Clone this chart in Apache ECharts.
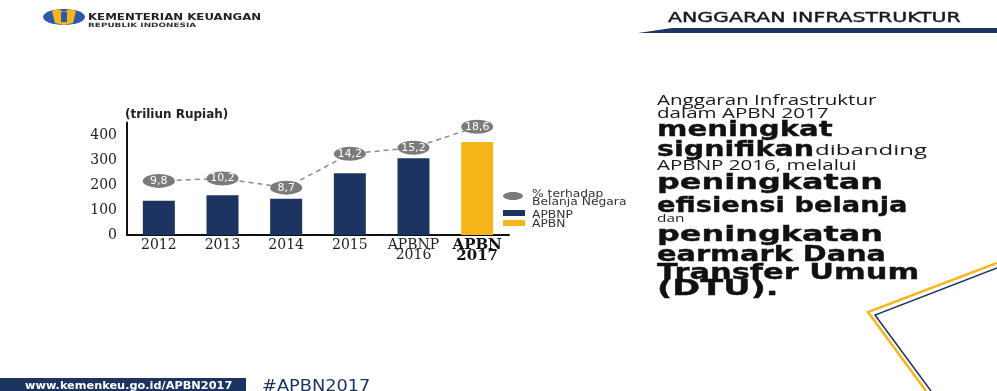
<!DOCTYPE html>
<html>
<head>
<meta charset="utf-8">
<script src="https://cdn.jsdelivr.net/npm/echarts@6/dist/echarts.min.js"></script>
<style>
html,body{margin:0;padding:0;background:#fff;}
#c{width:997px;height:391px;}
</style>
</head>
<body>
<div id="c"></div>
<script>
var categories = ['2012', '2013', '2014', '2015', 'APBNP\n2016', 'APBN\n2017'];
var apbnpValues = [137, 159, 145, 247, 307, '-'];
var apbnValues = ['-', '-', '-', '-', '-', 372];
var sharePercent = [9.8, 10.2, 8.7, 14.2, 15.2, 18.6];
var yTicks = [0, 100, 200, 300, 400];
var legendNames = ['% terhadap\nBelanja Negara', 'APBNP', 'APBN'];

var NAVY = '#1d3461';
var GOLD = '#f6b619';
var GRAY = '#7b7b7b';
var ELLIPSE = 'path://M0,10 A20,10 0 1,1 40,10 A20,10 0 1,1 0,10 Z';

var chart = echarts.init(document.getElementById('c'), null, {renderer: 'canvas'});

var heavy = {fontFamily: 'DejaVu Sans', fontWeight: 'bold', fontSize: 21, fill: '#111', stroke: '#111', lineWidth: 0.35};
var light = {fontFamily: 'Open Sans', fontWeight: 'normal', fontSize: 15, fill: '#1a1a1a'};
var LS = 1.37;

// x = left edge, b = text baseline
function txt(x, b, text, st, sx) {
  var fs = st.fontSize || 12;
  return {type: 'text', x: x, y: b - 0.12 * fs, scaleX: sx || 1,
    style: Object.assign({text: text, verticalAlign: 'middle', align: 'left'}, st)};
}

var option = {
  animation: false,
  backgroundColor: '#ffffff',
  grid: {left: 127, right: 488, top: 122.5, bottom: 156, containLabel: false},
  legend: {show: false, data: legendNames},
  xAxis: {
    type: 'category', data: categories,
    axisLine: {lineStyle: {color: '#111', width: 2}},
    axisTick: {show: false},
    axisLabel: {
      margin: 5, interval: 0,
      fontFamily: 'DejaVu Serif', fontSize: 14, color: '#222', lineHeight: 10,
      formatter: function (v, i) {
        if (i === 5) return v.split('\n').map(function (s) { return '{b|' + s + '}'; }).join('\n');
        return v;
      },
      rich: {b: {fontFamily: 'DejaVu Serif', fontWeight: 'bold', fontSize: 15, color: '#111', lineHeight: 11}}
    }
  },
  yAxis: [{
    type: 'value', min: 0, max: 450, interval: 100,
    name: '(triliun Rupiah)', nameLocation: 'end', nameGap: 2,
    nameTextStyle: {fontFamily: 'DejaVu Sans', fontWeight: 'bold', fontSize: 12, color: '#222', align: 'left', padding: [0, 0, 0, -2]},
    axisLine: {show: true, lineStyle: {color: '#111', width: 2}},
    axisTick: {show: false},
    splitLine: {show: false},
    axisLabel: {margin: 10, showMaxLabel: false, fontFamily: 'DejaVu Serif', fontSize: 14, color: '#222',
      formatter: function (v) { return yTicks.indexOf(v) >= 0 ? String(v) : ''; }}
  }, {
    type: 'value', min: 1, max: 19.3, show: false, splitLine: {show: false}
  }],
  series: [
    {name: legendNames[1], type: 'bar', stack: 'v', data: apbnpValues, barWidth: 32, itemStyle: {color: NAVY}},
    {name: legendNames[2], type: 'bar', stack: 'v', data: apbnValues, barWidth: 32, itemStyle: {color: GOLD}},
    {
      name: legendNames[0], type: 'line', yAxisIndex: 1, data: sharePercent,
      symbol: ELLIPSE, symbolSize: [32, 14], z: 5,
      itemStyle: {color: GRAY},
      lineStyle: {color: '#8c8c8c', width: 1.5, type: [5, 4]},
      label: {show: true, position: 'inside', color: '#fff', fontFamily: 'DejaVu Sans', fontSize: 11,
        formatter: function (p) { return String(p.value).replace('.', ','); }}
    }
  ],
  graphic: [
    // header logo
    {type: 'ellipse', shape: {cx: 64, cy: 17, rx: 21, ry: 8}, style: {fill: '#2a5aa8'}},
    {type: 'polygon', shape: {points: [[52,11],[58,9],[64,12],[70,9],[76,11],[73,23],[64,25],[55,23]]}, style: {fill: GOLD}},
    {type: 'rect', shape: {x: 61, y: 12, width: 6, height: 10}, style: {fill: '#2a5aa8'}},
    txt(88, 19, 'KEMENTERIAN KEUANGAN', {fontFamily: 'DejaVu Sans', fontWeight: 'bold', fontSize: 8, fill: '#222'}, 1.47),
    txt(88, 26, 'REPUBLIK INDONESIA', {fontFamily: 'DejaVu Sans', fontWeight: 'bold', fontSize: 6, fill: '#333'}, 1.48),
    // title
    txt(668, 20.5, 'ANGGARAN INFRASTRUKTUR', {fontFamily: 'DejaVu Sans', fontSize: 14, fill: '#1a1a1a', stroke: '#1a1a1a', lineWidth: 0.4}, 1.46),
    {type: 'polygon', shape: {points: [[638,33],[672,28],[997,28],[997,33]]}, style: {fill: NAVY}},
    // right text block
    txt(657, 103, 'Anggaran Infrastruktur', light, LS),
    txt(657, 116, 'dalam APBN 2017', light, LS),
    txt(657, 133, 'meningkat', heavy, 1.39),
    txt(657, 153, 'signifikan', heavy, 1.36),
    txt(815, 153, 'dibanding', light, 1.6),
    txt(657, 168, 'APBNP 2016, melalui', light, LS),
    txt(657, 186, 'peningkatan', heavy, 1.52),
    txt(657, 209, 'efisiensi belanja', heavy, 1.30),
    txt(657, 220, 'dan', {fontFamily: 'Open Sans', fontSize: 11, fill: '#222'}, 1.4),
    txt(657, 238, 'peningkatan', heavy, 1.52),
    txt(657, 258, 'earmark Dana', heavy, 1.37),
    txt(657, 276, 'Transfer Umum', heavy, 1.45),
    txt(657, 292, '(DTU).', heavy, 1.6),
    // legend
    {type: 'ellipse', shape: {cx: 513, cy: 196, rx: 10, ry: 4}, style: {fill: GRAY}},
    {type: 'rect', shape: {x: 503, y: 210, width: 22, height: 6}, style: {fill: NAVY}},
    {type: 'rect', shape: {x: 503, y: 220, width: 22, height: 6}, style: {fill: GOLD}},
    txt(532, 195, '% terhadap', {fontFamily: 'DejaVu Sans', fontSize: 11, fill: '#333'}, 1.12),
    txt(532, 203, 'Belanja Negara', {fontFamily: 'DejaVu Sans', fontSize: 11, fill: '#333'}, 1.12),
    txt(532, 216, 'APBNP', {fontFamily: 'DejaVu Sans', fontSize: 11, fill: '#333'}, 1.12),
    txt(532, 225.5, 'APBN', {fontFamily: 'DejaVu Sans', fontSize: 11, fill: '#333'}, 1.12),
    // decoration
    {type: 'polyline', shape: {points: [[997,263],[868,312],[926,391]]}, style: {stroke: GOLD, lineWidth: 2.5, fill: null}},
    {type: 'polyline', shape: {points: [[997,268],[875,315],[931,391]]}, style: {stroke: NAVY, lineWidth: 1.5, fill: null}},
    // footer
    {type: 'rect', shape: {x: 0, y: 378, width: 246, height: 13}, style: {fill: NAVY}},
    txt(25, 387.5, 'www.kemenkeu.go.id/APBN2017', {fontFamily: 'DejaVu Sans', fontWeight: 'bold', fontSize: 10, fill: '#fff'}, 1.13),
    txt(262, 388.5, '#APBN2017', {fontFamily: 'DejaVu Sans', fontSize: 16, fill: NAVY}, 1.11)
  ]
};
chart.setOption(option);
</script>
</body>
</html>
